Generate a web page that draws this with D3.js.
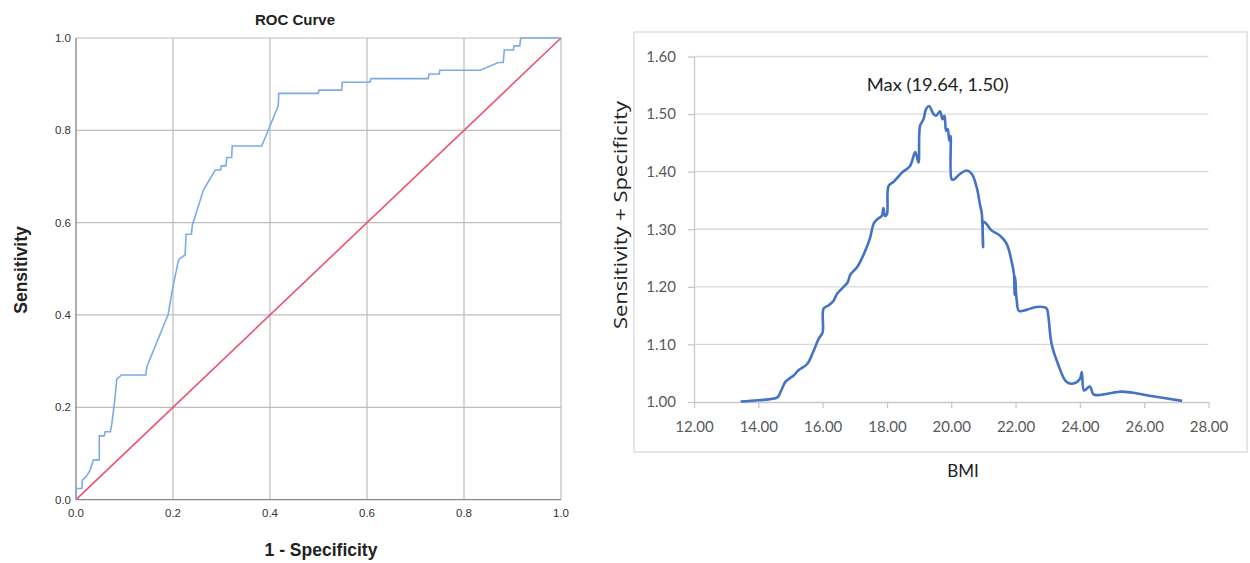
<!DOCTYPE html>
<html>
<head>
<meta charset="utf-8">
<script src="https://cdn.jsdelivr.net/npm/d3@7"></script>
<style>
  html, body { margin: 0; padding: 0; background: #fff; }
  svg { display: block; }
</style>
</head>
<body>
<svg id="chart" width="1250" height="563"></svg>
<script>
// ---------- Left chart: ROC curve ----------
const rocFpr = [0, 0, 0.012, 0.013, 0.022, 0.029, 0.036, 0.048, 0.048, 0.058, 0.06, 0.071, 0.074, 0.08, 0.084, 0.094, 0.144, 0.146, 0.19, 0.2, 0.211, 0.214, 0.225, 0.227, 0.238, 0.24, 0.263, 0.287, 0.298, 0.3, 0.309, 0.311, 0.321, 0.322, 0.383, 0.417, 0.418, 0.4996, 0.501, 0.548, 0.549, 0.606, 0.608, 0.726, 0.728, 0.749, 0.75, 0.833, 0.871, 0.881, 0.883, 0.902, 0.903, 0.915, 0.917, 1.0];
const rocTpr = [0, 0.024, 0.024, 0.042, 0.051, 0.064, 0.086, 0.086, 0.138, 0.138, 0.147, 0.147, 0.165, 0.216, 0.261, 0.27, 0.27, 0.288, 0.401, 0.462, 0.517, 0.522, 0.53, 0.575, 0.575, 0.595, 0.671, 0.714, 0.714, 0.723, 0.723, 0.741, 0.741, 0.766, 0.766, 0.853, 0.88, 0.88, 0.887, 0.887, 0.904, 0.904, 0.912, 0.912, 0.922, 0.922, 0.93, 0.93, 0.947, 0.947, 0.974, 0.974, 0.983, 0.983, 1.0, 1.0];
const refLine = [0, 1];
const rocTicks = [0, 0.2, 0.4, 0.6, 0.8, 1.0];
const rocTitle = "ROC Curve";
const rocXTitle = "1 - Specificity";
const rocYTitle = "Sensitivity";

// ---------- Right chart: Sensitivity + Specificity vs BMI ----------
const bmi = [13.45, 14.0, 14.59, 14.69, 14.84, 15.0, 15.1, 15.25, 15.52, 15.72, 15.88, 16.0, 16.03, 16.19, 16.34, 16.45, 16.6, 16.78, 16.86, 17.07, 17.19, 17.38, 17.48, 17.59, 17.71, 17.84, 17.89, 17.94, 18.0, 18.05, 18.2, 18.46, 18.72, 18.88, 18.98, 19.03, 19.13, 19.22, 19.31, 19.45, 19.53, 19.65, 19.73, 19.79, 19.84, 19.89, 19.94, 19.98, 20.01, 20.07, 20.27, 20.48, 20.64, 20.79, 20.89, 20.95, 20.99, 21.01, 21.1, 21.25, 21.51, 21.72, 21.87, 21.95, 21.97, 21.99, 22.03, 22.11, 22.34, 22.65, 22.96, 23.01, 23.12, 23.32, 23.58, 23.79, 24.0, 24.06, 24.13, 24.31, 24.41, 24.51, 24.82, 25.29, 25.65, 26.27, 27.18];
const sensSpec = [1.001, 1.003, 1.008, 1.017, 1.035, 1.042, 1.046, 1.055, 1.066, 1.089, 1.11, 1.121, 1.162, 1.168, 1.176, 1.188, 1.197, 1.208, 1.221, 1.234, 1.246, 1.27, 1.286, 1.31, 1.318, 1.323, 1.337, 1.323, 1.326, 1.375, 1.382, 1.398, 1.41, 1.434, 1.416, 1.48, 1.49, 1.509, 1.514, 1.5, 1.497, 1.505, 1.491, 1.497, 1.471, 1.474, 1.454, 1.462, 1.387, 1.386, 1.396, 1.402, 1.396, 1.373, 1.344, 1.327, 1.269, 1.313, 1.309, 1.298, 1.289, 1.275, 1.246, 1.222, 1.186, 1.217, 1.179, 1.158, 1.16, 1.165, 1.163, 1.153, 1.101, 1.066, 1.035, 1.032, 1.04, 1.052, 1.02, 1.027, 1.014, 1.012, 1.014, 1.018, 1.016, 1.01, 1.002];
const bmiTicks = [12, 14, 16, 18, 20, 22, 24, 26, 28];
const ssTicks = [1.0, 1.1, 1.2, 1.3, 1.4, 1.5, 1.6];
const maxLabel = "Max (19.64, 1.50)";
const maxPoint = [19.64, 1.50];
const bmiTitle = "BMI";
const ssTitle = "Sensitivity + Specificity";

const svg = d3.select("#chart");

// ================= LEFT =================
const lx = d3.scaleLinear().domain([0, 1]).range([76, 561]);
const ly = d3.scaleLinear().domain([0, 1]).range([499.6, 38]);
const L = svg.append("g");
const gridCol = "#bdbdbd";
const lFont = "Liberation Sans, Arial, sans-serif";

L.append("g").selectAll("line").data(rocTicks.slice(1)).join("line")
  .attr("x1", d => lx(d)).attr("x2", d => lx(d))
  .attr("y1", ly(0)).attr("y2", ly(1))
  .attr("stroke", gridCol).attr("stroke-width", 1.2);
L.append("g").selectAll("line").data(rocTicks.slice(1)).join("line")
  .attr("x1", lx(0)).attr("x2", lx(1))
  .attr("y1", d => ly(d)).attr("y2", d => ly(d))
  .attr("stroke", gridCol).attr("stroke-width", 1.2);

L.append("line").attr("x1", lx(0)).attr("x2", lx(0)).attr("y1", ly(0)).attr("y2", ly(1))
  .attr("stroke", "#888").attr("stroke-width", 1.4);
L.append("line").attr("x1", lx(0)).attr("x2", lx(1)).attr("y1", ly(0)).attr("y2", ly(0))
  .attr("stroke", "#888").attr("stroke-width", 1.4);

L.append("g").selectAll("text").data(rocTicks).join("text")
  .attr("x", 71).attr("y", d => ly(d)).attr("dy", "0.35em")
  .attr("text-anchor", "end")
  .attr("font-family", lFont).attr("font-size", 11.5)
  .attr("fill", "#333").text(d => d.toFixed(1));
L.append("g").selectAll("text").data(rocTicks).join("text")
  .attr("x", d => lx(d)).attr("y", 517)
  .attr("text-anchor", "middle")
  .attr("font-family", lFont).attr("font-size", 11.5)
  .attr("fill", "#333").text(d => d.toFixed(1));

L.append("line")
  .attr("x1", lx(refLine[0])).attr("y1", ly(refLine[0]))
  .attr("x2", lx(refLine[1])).attr("y2", ly(refLine[1]))
  .attr("stroke", "#ea5470").attr("stroke-width", 1.6);

const rocLine = d3.line().x(d => lx(d[0])).y(d => ly(d[1]));
L.append("path").datum(rocFpr.map((f, i) => [f, rocTpr[i]]))
  .attr("d", rocLine).attr("fill", "none")
  .attr("stroke", "#7eaae8").attr("stroke-width", 1.6);

L.append("text").attr("x", 295).attr("y", 25).attr("text-anchor", "middle")
  .attr("font-family", lFont).attr("font-weight", "bold")
  .attr("font-size", 15).attr("fill", "#222").text(rocTitle);
L.append("text").attr("x", 321).attr("y", 556).attr("text-anchor", "middle")
  .attr("font-family", lFont).attr("font-weight", "bold")
  .attr("font-size", 17.5).attr("fill", "#222").text(rocXTitle);
L.append("text").attr("transform", "translate(27,270) rotate(-90)").attr("text-anchor", "middle")
  .attr("font-family", lFont).attr("font-weight", "bold")
  .attr("font-size", 17.5).attr("fill", "#222").text(rocYTitle);

// ================= RIGHT =================
const R = svg.append("g");
const rFont = "Lato, 'Open Sans', sans-serif";
R.append("rect").attr("x", 634).attr("y", 32).attr("width", 613).attr("height", 420)
  .attr("fill", "#fff").attr("stroke", "#d9d9d9").attr("stroke-width", 1.3);

const rx = d3.scaleLinear().domain([12, 28]).range([694, 1208.5]);
const ry = d3.scaleLinear().domain([1.0, 1.6]).range([402, 56.5]);

R.append("g").selectAll("line").data(ssTicks.slice(1)).join("line")
  .attr("x1", rx(12)).attr("x2", rx(28))
  .attr("y1", d => ry(d)).attr("y2", d => ry(d))
  .attr("stroke", "#d9d9d9").attr("stroke-width", 1.3);

const xAx = R.append("g").attr("transform", `translate(0,${ry(1.0)})`)
  .call(d3.axisBottom(rx).tickValues(bmiTicks).tickSize(6).tickSizeOuter(0).tickFormat(d => d.toFixed(2)));
const yAx = R.append("g").attr("transform", `translate(${rx(12)},0)`)
  .call(d3.axisLeft(ry).tickValues(ssTicks).tickSize(6).tickSizeOuter(0).tickFormat(d => d.toFixed(2)));
[xAx, yAx].forEach(a => {
  a.select(".domain").attr("stroke", "#c8c8c8").attr("stroke-width", 1.3);
  a.selectAll(".tick line").attr("stroke", "#c8c8c8").attr("stroke-width", 1.3);
  a.selectAll("text").attr("font-family", rFont)
    .attr("font-size", 15).attr("fill", "#595959");
});
xAx.selectAll(".tick text").attr("y", 19);
yAx.selectAll(".tick text").attr("x", -18);

const ssLine = d3.line().x(d => rx(d[0])).y(d => ry(d[1])).curve(d3.curveCatmullRom.alpha(0.5));
R.append("path").datum(bmi.map((b, i) => [b, sensSpec[i]]))
  .attr("d", ssLine).attr("fill", "none")
  .attr("stroke", "#4472c4").attr("stroke-width", 2.6).attr("stroke-linejoin", "round");

R.append("text").attr("x", rx(maxPoint[0]) - 14 + 12).attr("y", ry(maxPoint[1]) - 23)
  .attr("text-anchor", "middle")
  .attr("font-family", rFont).attr("font-size", 17)
  .attr("textLength", 142).attr("lengthAdjust", "spacingAndGlyphs")
  .attr("fill", "#222").text(maxLabel);

R.append("text").attr("x", 963).attr("y", 477).attr("text-anchor", "middle")
  .attr("font-family", rFont).attr("font-size", 17)
  .attr("fill", "#222").text(bmiTitle);
R.append("text").attr("transform", "translate(627,215) rotate(-90)").attr("text-anchor", "middle")
  .attr("font-family", "'Open Sans', Lato, sans-serif").attr("font-size", 17.5)
  .attr("textLength", 228).attr("lengthAdjust", "spacingAndGlyphs")
  .attr("fill", "#222").text(ssTitle);
</script>
</body>
</html>
